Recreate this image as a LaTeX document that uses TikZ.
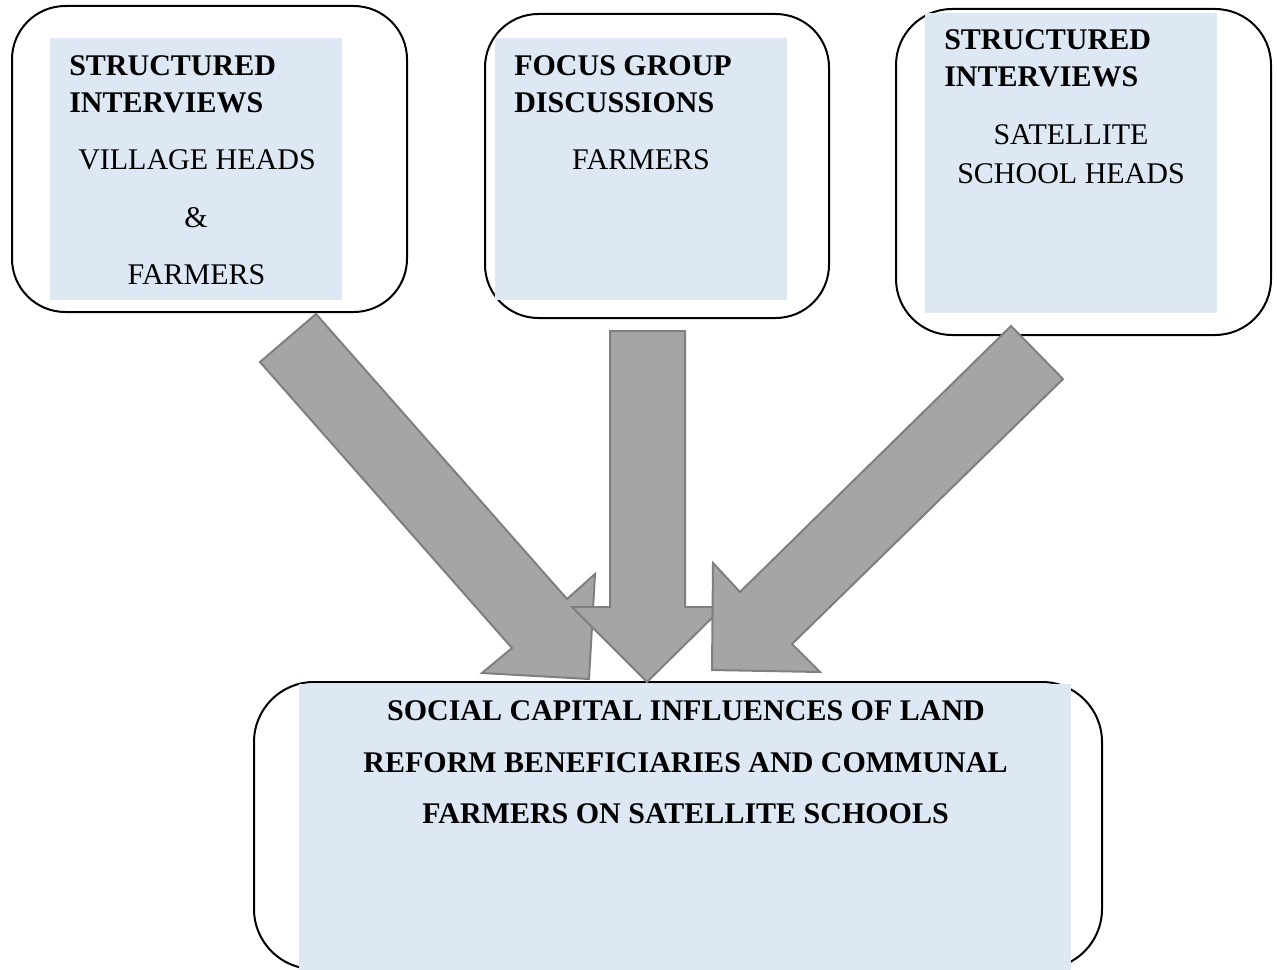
\documentclass[tikz,border=0pt]{standalone}
\usepackage{fontspec}
\setmainfont{Liberation Serif}
\definecolor{boxblue}{HTML}{DDE8F4}
\definecolor{arrfill}{HTML}{A5A5A5}
\definecolor{arrline}{HTML}{7F7F7F}
\begin{document}
\begin{tikzpicture}[x=0.75pt,y=-0.75pt,
  frame/.style={draw=black,line width=1.5pt},
  bluebg/.style={fill=boxblue,draw=none},
  blockarrow/.style={fill=arrfill,draw=arrline,line width=1.5pt,line join=miter},
  hd/.style={font=\fontsize{22.5}{27}\selectfont\bfseries,inner sep=0pt},
  tx/.style={font=\fontsize{22.5}{27}\selectfont,inner sep=0pt}]
\useasboundingbox (0,0) rectangle (1277,970);

% box 1
\draw[frame,rounded corners=40] (12,6) rectangle (407,312);
\fill[bluebg] (50,38) rectangle (342,300);
\node[hd,anchor=base west] (b1h1) at (69,76) {STRUCTURED};
\node[hd,anchor=base west] (b1h2) at (69,113) {INTERVIEWS};
\node[tx,anchor=base] (b1t1) at (197,170) {VILLAGE HEADS};
\node[tx,anchor=base] (b1t2) at (196,227) {\&};
\node[tx,anchor=base] (b1t3) at (196.5,284) {FARMERS};

% box 2
\draw[frame,rounded corners=40] (485,14) rectangle (829,318);
\fill[bluebg] (495,38) rectangle (787,300);
\node[hd,anchor=base west] (b2h1) at (514,76) {FOCUS GROUP};
\node[hd,anchor=base west] (b2h2) at (514,113) {DISCUSSIONS};
\node[tx,anchor=base] (b2t1) at (641,170) {FARMERS};

% box 3
\draw[frame,rounded corners=42] (896,9) rectangle (1271,335);
\fill[bluebg] (925,13) rectangle (1217,313);
\node[hd,anchor=base west] (b3h1) at (944,50) {STRUCTURED};
\node[hd,anchor=base west] (b3h2) at (944,87) {INTERVIEWS};
\node[tx,anchor=base] (b3t1) at (1071,145) {SATELLITE};
\node[tx,anchor=base] (b3t2) at (1071,183) {SCHOOL HEADS};

% bottom box
\draw[frame,rounded corners=45] (254,682) rectangle (1102,969);
\fill[bluebg] (299,683.5) rectangle (1071,970);
\node[hd,anchor=base] (c1) at (686,720) {SOCIAL CAPITAL INFLUENCES OF LAND};
\node[hd,anchor=base] (c2) at (685.5,772) {REFORM BENEFICIARIES AND COMMUNAL};
\node[hd,anchor=base] (c3) at (685.5,823) {FARMERS ON SATELLITE SCHOOLS};

% block arrows
\draw[blockarrow] (316,314) -- (260,362) -- (512,648) -- (482,673) -- (589,679)
  -- (595,574) -- (567,599) -- cycle;
\draw[blockarrow] (610,331) -- (685,331) -- (685,607) -- (723,607) -- (647,682)
  -- (572,607) -- (610,607) -- cycle;
\draw[blockarrow] (1011,326) -- (1063,379) -- (792,644) -- (820,672) -- (712,670)
  -- (713,563) -- (740,592) -- cycle;
\end{tikzpicture}
\end{document}
